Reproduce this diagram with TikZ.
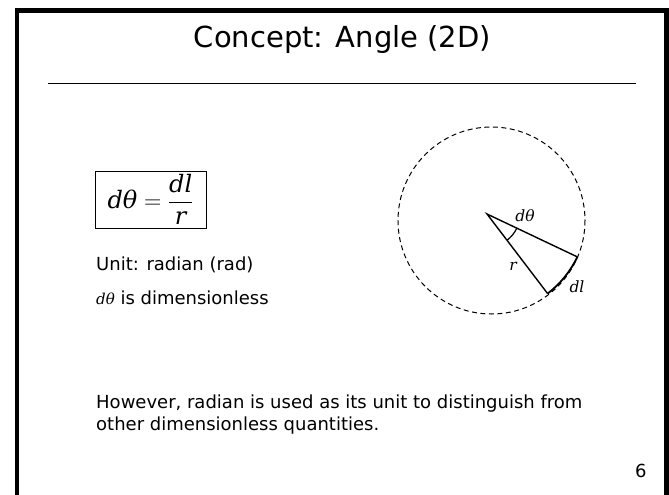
\RequirePackage{fix-cm}
\documentclass[tikz,border=0pt]{standalone}
\usepackage{fontspec}
\setmainfont{DejaVu Sans}
\newfontfamily\mitfont{DejaVu Serif}
\newcommand{\mv}[1]{\mbox{\mitfont\itshape #1}}
\usetikzlibrary{calc}
\tikzset{
  frameline/.style={line width=4.5pt},
  bodytext/.style={anchor=base west, inner sep=0pt, font=\fontsize{18}{22}\selectfont},
  mathlabel/.style={inner sep=0pt, font=\fontsize{15.5}{18}\selectfont\mitfont\itshape},
  wedgeline/.style={line width=1.4pt},
}
\begin{document}
\begin{tikzpicture}[x=1pt,y=-1pt]
\useasboundingbox (0,0) rectangle (669,495);
% frame
\begin{scope}
\clip (0,0) rectangle (669,495);
\draw[frameline] (17.2,520) -- (17.2,10.5) -- (666.5,10.5) -- (666.5,520);
\end{scope}
% title
\node[anchor=base, inner sep=0pt, font=\fontsize{29}{34}\selectfont] (title) at (342.5,48) {Concept: Angle (2D)};
\coordinate (rl) at (48,83);
\coordinate (rr) at (636,83);
\draw[line width=1pt] (rl) -- (rr);
% formula box
\node[draw, line width=1pt, minimum width=111, minimum height=57, inner sep=0pt,
      font=\fontsize{24}{28}\selectfont] (box) at (150.5,199.5) {$\displaystyle \mv{dθ}=\frac{\mv{dl}}{\mv{r}}$};
% body text
\node[bodytext] (unit) at (96,270) {Unit: radian (rad)};
\node[bodytext] (dimless) at (96,304) {{\fontsize{15}{18}\selectfont\mitfont\itshape dθ} is dimensionless};
\node[bodytext] (however) at (96,408) {However, radian is used as its unit to distinguish from};
\node[bodytext] (other) at (96,430) {other dimensionless quantities.};
\node[bodytext] (pagenum) at (635,477) {6};
% figure
\coordinate (O) at (491.5,220.5);
\draw[line width=1pt, dash pattern=on 5pt off 3.5pt] (O) circle[radius=93.5];
\coordinate (A) at (487,214);
\coordinate (P) at ($(A)+(25.4:100)$);
\coordinate (Q) at ($(A)+(52.7:100)$);
\coordinate (M) at ($(A)+(25.4:33)$);
\draw[wedgeline] (P) -- (A) -- (Q);
\draw[line width=1.8pt] (P) arc[start angle=25.4, end angle=52.7, radius=100];
\draw[line width=1.2pt] (M) arc[start angle=25.4, end angle=52.7, radius=33];
\node[mathlabel] (lth) at (525,216) {dθ};
\node[mathlabel] (lr) at (513,266) {r};
\node[mathlabel] (ldl) at (577,287) {dl};
\end{tikzpicture}
\end{document}
